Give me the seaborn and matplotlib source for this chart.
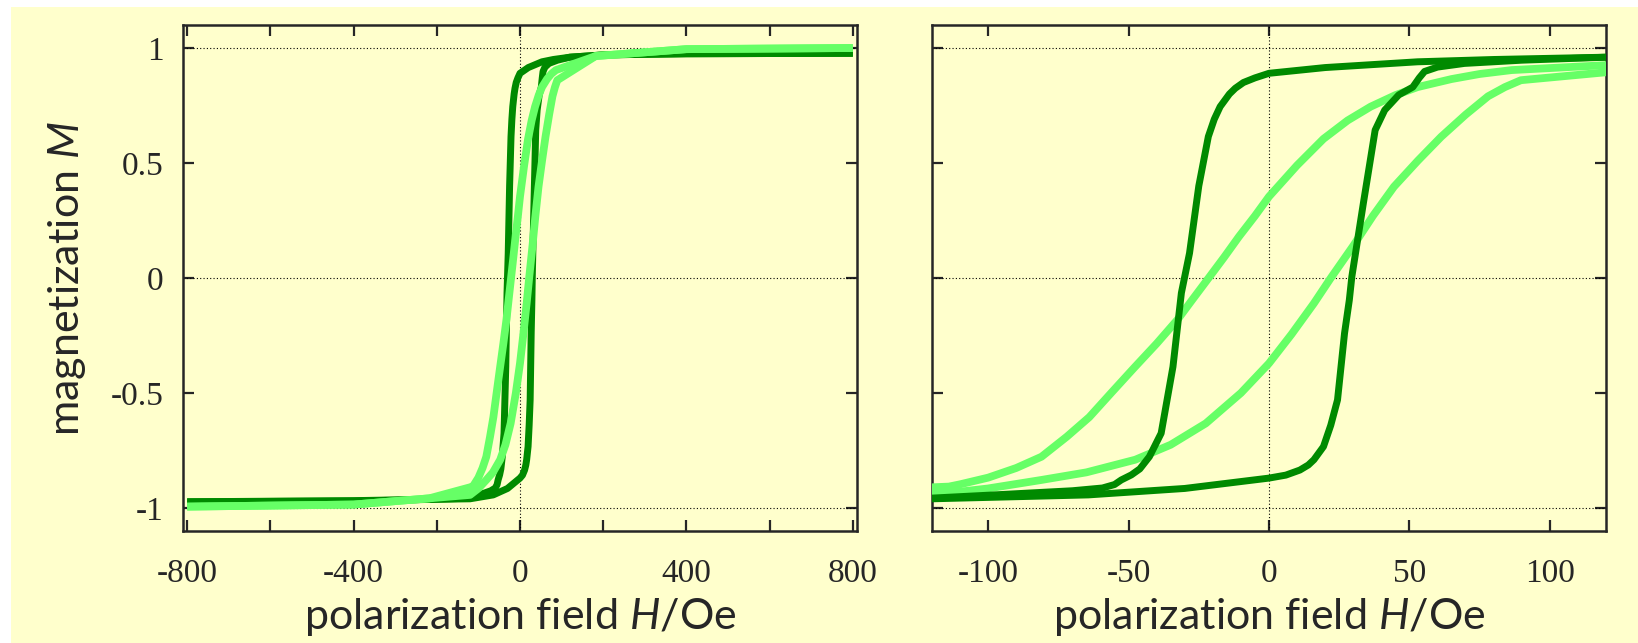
import numpy as np
import pandas as pd
import matplotlib
matplotlib.use("Agg")
import matplotlib.pyplot as plt
from matplotlib.patches import Rectangle
from matplotlib.ticker import MultipleLocator
import seaborn as sns

# ---- data (H in Oe, M normalised) ----
dark_up_H = [-800, -400, -200, -120, -97.8, -70, -59.3, -55, -52.6, -49, -46, -42.6, -38.4,
             -34.2, -31.2, -28.3, -25, -21.6, -19.5, -17.4, -14.1, -12, -9.1, -5, 0, 20,
             52.9, 80, 120, 200, 400, 800]
dark_up_M = [-0.973, -0.968, -0.962, -0.957, -0.943, -0.925, -0.913, -0.898, -0.878, -0.856,
             -0.83, -0.777, -0.675, -0.386, -0.065, 0.108, 0.40, 0.615, 0.69, 0.745, 0.80,
             0.825, 0.85, 0.87, 0.89, 0.915, 0.94, 0.95, 0.96, 0.97, 0.975, 0.977]

dark_low_H = [-800, -400, -200, -120, -64.3, -30, 0, 6, 11, 14, 16, 19.4, 22, 24.4, 26.9,
              28.6, 29.5, 33.6, 37.8, 41.2, 46.2, 51.2, 53.5, 55.4, 60, 69.6, 90, 120, 200,
              400, 800]
dark_low_M = [-0.973, -0.97, -0.962, -0.96, -0.943, -0.915, -0.87, -0.857, -0.835, -0.813,
              -0.79, -0.733, -0.64, -0.53, -0.24, -0.096, 0.006, 0.325, 0.643, 0.73, 0.796,
              0.83, 0.87, 0.898, 0.917, 0.933, 0.947, 0.96, 0.97, 0.975, 0.977]

light_up_H = [-800, -400, -218, -114, -110, -100, -90, -81, -72, -64, -56, -48, -40, -32.5,
              -27.4, -21.5, -16, -10.7, -5, 0, 10, 19.4, 28, 36.2, 45, 52.9, 65, 75, 86.4,
              182, 400, 800]
light_up_M = [-0.994, -0.985, -0.958, -0.907, -0.897, -0.868, -0.826, -0.777, -0.69, -0.605,
              -0.497, -0.39, -0.285, -0.18, -0.096, 0.0, 0.09, 0.18, 0.27, 0.354, 0.49, 0.605,
              0.685, 0.745, 0.795, 0.83, 0.865, 0.887, 0.904, 0.965, 0.995, 1.0]

light_low_H = [-800, -400, -218, -120, -100, -81, -65, -47.6, -35, -22.5, -10, 0, 8, 16, 22,
               30, 37, 44.5, 53, 61.3, 70, 78, 84, 89.7, 182, 400, 800]
light_low_M = [-0.994, -0.985, -0.958, -0.943, -0.915, -0.878, -0.845, -0.79, -0.725, -0.632,
               -0.50, -0.371, -0.245, -0.11, 0.0, 0.14, 0.27, 0.397, 0.51, 0.614, 0.71, 0.79,
               0.83, 0.86, 0.965, 0.995, 1.0]

left_xticks = [-800, -400, 0, 400, 800]
right_xticks = [-100, -50, 0, 50, 100]
yticks = [-1, -0.5, 0, 0.5, 1]
ytick_labels = ["-1", "-0.5", "0", "0.5", "1"]

DARK = "#008a00"
LIGHT = "#66ff66"
BG = "#ffffcc"

sns.set_style("ticks")
plt.rcParams["font.family"] = ["Liberation Serif", "DejaVu Serif"]
plt.rcParams["mathtext.fontset"] = "custom"
plt.rcParams["mathtext.it"] = "Lato:italic"
plt.rcParams["mathtext.rm"] = "Lato"

fig = plt.figure(figsize=(16.38, 6.43), dpi=100, facecolor="white")
fig.patches.append(Rectangle((11 / 1638, 0), 1, 1 - 7 / 643, transform=fig.transFigure,
                             facecolor=BG, edgecolor="none", zorder=-10))

axL = fig.add_axes([183 / 1638, 1 - 531 / 643, 674 / 1638, 506 / 643])
axR = fig.add_axes([932 / 1638, 1 - 531 / 643, 674 / 1638, 506 / 643])

branches = [(dark_up_H, dark_up_M, DARK, 5.0), (dark_low_H, dark_low_M, DARK, 5.0),
            (light_up_H, light_up_M, LIGHT, 5.6), (light_low_H, light_low_M, LIGHT, 5.6)]

for ax, order in ((axL, [0, 1, 2, 3]), (axR, [2, 3, 0, 1])):
    ax.set_facecolor(BG)
    for i in order:
        H, M, c, lw = branches[i]
        sns.lineplot(x=H, y=M, sort=False, color=c, lw=lw, ax=ax,
                     solid_capstyle="butt", solid_joinstyle="round", zorder=3)
    ax.set_ylim(-1.1, 1.1)
    for yv in (-1, 0, 1):
        ax.axhline(yv, color="black", lw=0.8, ls=(0, (1, 2)), zorder=1)
    ax.axvline(0, color="black", lw=0.8, ls=(0, (1, 2)), zorder=1)
    ax.set_yticks(yticks)
    for s in ax.spines.values():
        s.set_linewidth(1.8)
        s.set_visible(True)
    ax.tick_params(which="both", direction="in", top=True, right=True,
                   length=8, width=1.6, labelsize=24, pad=20)
    ax.set_xlabel("polarization field $H$/Oe", fontsize=31, family="Lato", labelpad=5)

axL.set_xlim(-810, 810)
axL.set_xticks(left_xticks)
axL.set_xticklabels([str(v) for v in left_xticks])
axL.xaxis.set_minor_locator(MultipleLocator(200))
axL.tick_params(which="minor", length=8, width=1.6)
axL.set_yticklabels(ytick_labels)
axL.tick_params(axis="y", pad=14)
axL.set_ylabel("magnetization $M$", fontsize=31, family="Lato", labelpad=16)

axR.set_xlim(-120, 120)
axR.set_xticks(right_xticks)
axR.set_xticklabels([str(v) for v in right_xticks])
axR.set_yticklabels([])
axR.set_ylabel("")

fig.savefig("out.png", dpi=100, facecolor="white")
